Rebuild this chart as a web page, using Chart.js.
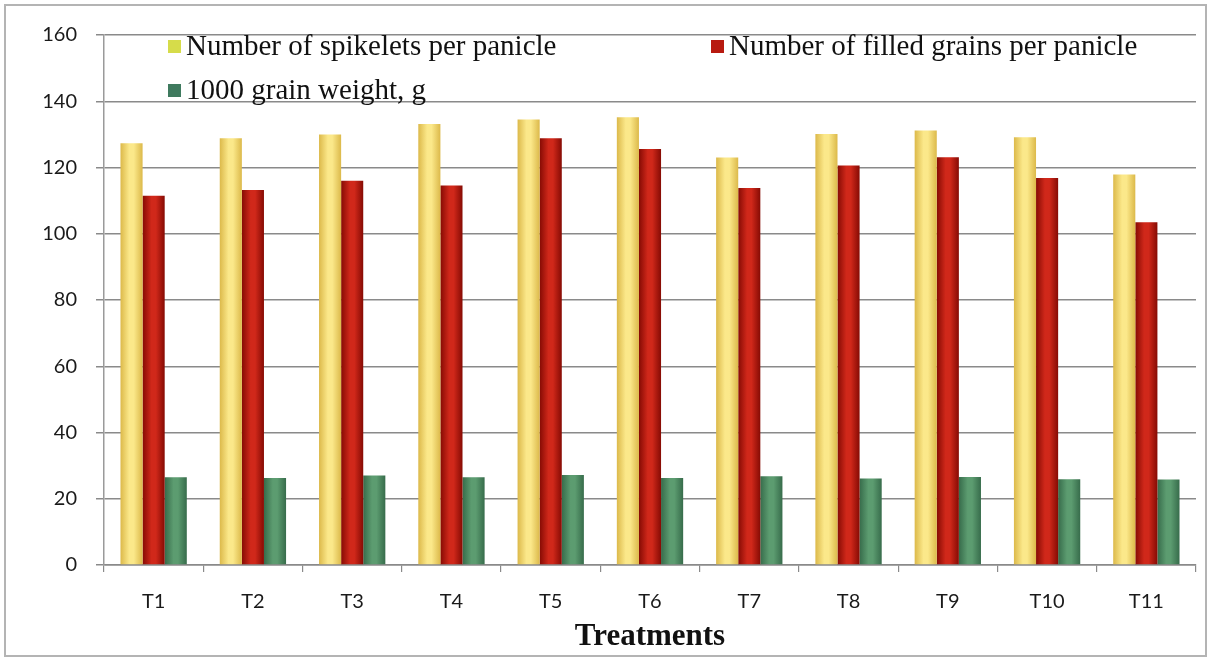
<!DOCTYPE html>
<html>
<head>
<meta charset="utf-8">
<script src="https://cdn.jsdelivr.net/npm/chart.js@4.4.1/dist/chart.umd.min.js"></script>
<style>
  body { margin: 0; background: #fff; }
  #frame {
    position: absolute; left: 4px; top: 4px; width: 1199px; height: 649px;
    border: 2px solid #b4b4b4;
  }
  #wrap { position: absolute; left: 0; top: 0; width: 1210px; height: 659px; }
</style>
</head>
<body>
<div id="frame"></div>
<div id="wrap"><canvas id="grainChart" width="1210" height="659"></canvas></div>
<script>
const treatments = ['T1', 'T2', 'T3', 'T4', 'T5', 'T6', 'T7', 'T8', 'T9', 'T10', 'T11'];
const spikelets = [127.3, 128.8, 130.0, 133.1, 134.5, 135.2, 123.0, 130.1, 131.2, 129.1, 117.9];
const filledGrains = [111.5, 113.2, 116.0, 114.6, 128.8, 125.6, 113.8, 120.6, 123.1, 116.8, 103.5];
const grainWeight = [26.5, 26.3, 27.0, 26.5, 27.2, 26.3, 26.8, 26.1, 26.6, 25.9, 25.8];
const yTicks = [0, 20, 40, 60, 80, 100, 120, 140, 160];

// edge / centre shades for the cylinder look of each series
const shades = [
    { edge: '#dcb94a', mid: '#fbe88a', box: '#d6dc4a' },
    { edge: '#860b04', mid: '#d0281a', box: '#b81a10' },
    { edge: '#376c4b', mid: '#5c9c70', box: '#3f7a5e' }
];

const shadeBars = {
    id: 'shadeBars',
    beforeDatasetDraw(chart, args) {
        const ctx = chart.ctx;
        const s = shades[args.index];
        args.meta.data.forEach((bar) => {
            const {x, width} = bar.getProps(['x', 'width'], true);
            const g = ctx.createLinearGradient(x - width / 2, 0, x + width / 2, 0);
            g.addColorStop(0, s.edge);
            g.addColorStop(0.4, s.mid);
            g.addColorStop(0.6, s.mid);
            g.addColorStop(1, s.edge);
            bar.options = Object.assign({}, bar.options, {backgroundColor: g});
        });
    }
};

// legend sits inside the plot, two columns
const innerLegend = {
    id: 'innerLegend',
    afterDraw(chart) {
        const ctx = chart.ctx;
        const left = chart.chartArea.left;
        const items = [
            [chart.data.datasets[0].label, shades[0].box, left + 64, 46],
            [chart.data.datasets[1].label, shades[1].box, left + 607, 46],
            [chart.data.datasets[2].label, shades[2].box, left + 64, 90]
        ];
        ctx.save();
        ctx.font = '29px "Liberation Serif"';
        ctx.textBaseline = 'middle';
        items.forEach(([text, color, x, y]) => {
            ctx.fillStyle = color;
            ctx.fillRect(x, y - 6, 13, 13);
            ctx.fillStyle = '#111';
            ctx.fillText(text, x + 18, y + 1);
        });
        ctx.restore();
    }
};

new Chart('grainChart', {
    type: 'bar',
    data: {
        labels: treatments,
        datasets: [
            { label: 'Number of spikelets per panicle', data: spikelets, backgroundColor: shades[0].mid },
            { label: 'Number of filled grains per panicle', data: filledGrains, backgroundColor: shades[1].mid },
            { label: '1000 grain weight, g', data: grainWeight, backgroundColor: shades[2].mid }
        ]
    },
    options: {
        responsive: false,
        animation: false,
        layout: { padding: { top: 35, right: 14, left: 0, bottom: 0 } },
        datasets: { bar: { categoryPercentage: 0.668, barPercentage: 1.0 } },
        plugins: {
            legend: { display: false },
            tooltip: { enabled: false }
        },
        scales: {
            x: {
                grid: { drawOnChartArea: false, offset: true, tickLength: 7, color: '#8a8a8a', lineWidth: 1.2 },
                border: { color: '#8a8a8a', width: 1.5 },
                ticks: { font: { family: 'Lato', size: 20 }, color: '#1a1a1a', padding: 18 },
                title: {
                    display: true, text: 'Treatments', color: '#111',
                    font: { family: 'Liberation Serif', size: 31, weight: 'bold' },
                    padding: { top: 0, bottom: 3 }
                },
                afterFit(scale) { scale.height = 94; }
            },
            y: {
                min: 0, max: 160,
                afterBuildTicks(scale) { scale.ticks = yTicks.map((v) => ({ value: v })); },
                grid: { color: '#8a8a8a', lineWidth: 1.5, tickLength: 8 },
                border: { color: '#9a9a9a', width: 1.5 },
                ticks: { font: { family: 'Lato', size: 20 }, color: '#1a1a1a', padding: 19 },
                afterFit(scale) { scale.width = 104; }
            }
        }
    },
    plugins: [shadeBars, innerLegend]
});
</script>
</body>
</html>
